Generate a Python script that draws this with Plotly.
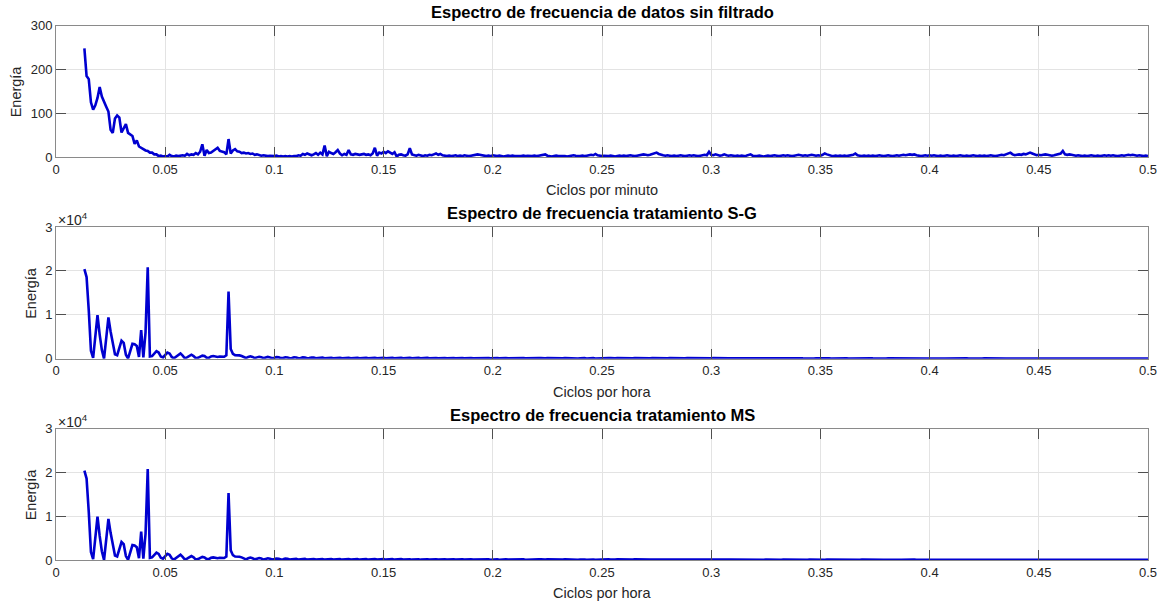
import numpy as np
import plotly.graph_objects as go

# ---------------- data ----------------
F_INICIO = 0.013
F_PASO = 0.001

# Panel 1: espectro de datos sin filtrado (energía), f = 0.013 ... 0.500
energia_raw = [
    # 0.013 - 0.100
    248, 185, 178, 125, 108, 118, 135, 160, 138, 125,
    115, 104, 62, 55, 88, 95, 90, 56, 65, 75,
    55, 52, 48, 30, 38, 24, 21, 18, 15, 14,
    10, 10, 6, 6, 2, 3, 1, 2, 1, 5,
    2, 1, 3, 2, 3, 4, 3, 7, 4, 6,
    5, 9, 6, 12, 29, 3, 16, 9, 10, 14,
    18, 21, 14, 13, 11, 6, 41, 8, 15, 18,
    13, 12, 9, 10, 8, 9, 7, 8, 5, 6,
    4, 3, 4, 3, 2, 3, 2, 2,
    # 0.101 - 0.200
    3, 1, 2, 1, 2, 1, 2, 1, 2, 2,
    4, 3, 7, 5, 8, 6, 4, 6, 9, 5,
    10, 6, 26, 2, 12, 9, 7, 11, 16, 8,
    4, 7, 5, 16, 6, 5, 7, 6, 5, 6,
    7, 5, 6, 4, 8, 21, 3, 10, 8, 12,
    9, 13, 10, 7, 11, 1, 5, 6, 4, 3,
    6, 20, 6, 4, 3, 5, 3, 2, 4, 3,
    5, 4, 6, 8, 5, 7, 4, 3, 2, 3,
    2, 3, 4, 2, 3, 2, 4, 3, 2, 3,
    4, 5, 6, 5, 4, 3, 2, 3, 2, 4,
    # 0.201 - 0.500
    3, 2, 3, 2, 1, 2, 3, 2, 3, 2,
    2, 1, 2, 3, 2, 3, 2, 2, 3, 2,
    3, 4, 5, 6, 3, 2, 1, 2, 3, 2,
    2, 3, 2, 1, 2, 3, 4, 3, 2, 2,
    3, 2, 3, 4, 5, 4, 7, 4, 3, 2,
    3, 2, 2, 3, 2, 1, 2, 3, 2, 3,
    2, 3, 4, 3, 2, 3, 4, 5, 6, 5,
    4, 5, 7, 8, 10, 7, 5, 4, 3, 4,
    3, 2, 3, 2, 3, 4, 3, 2, 3, 4,
    3, 4, 3, 2, 3, 4, 5, 4, 12, 5,
    4, 6, 5, 3, 4, 6, 4, 3, 4, 3,
    2, 3, 2, 3, 2, 3, 4, 6, 3, 2,
    2, 3, 2, 1, 2, 3, 2, 3, 4, 3,
    2, 3, 4, 3, 4, 3, 2, 3, 4, 5,
    4, 3, 4, 3, 4, 5, 4, 3, 4, 3,
    5, 8, 6, 4, 3, 2, 3, 2, 3, 2,
    3, 2, 3, 4, 5, 8, 4, 3, 2, 3,
    2, 3, 2, 3, 2, 3, 4, 3, 2, 3,
    4, 3, 2, 3, 4, 3, 4, 5, 4, 5,
    6, 5, 6, 4, 3, 2, 3, 4, 3, 4,
    3, 4, 3, 2, 3, 2, 3, 4, 3, 2,
    3, 2, 3, 4, 3, 2, 3, 2, 3, 4,
    3, 2, 3, 2, 3, 2, 3, 4, 3, 2,
    3, 4, 5, 4, 6, 8, 10, 6, 4, 5,
    6, 5, 7, 6, 8, 10, 8, 6, 4, 5,
    4, 5, 6, 5, 4, 3, 4, 5, 6, 8,
    14, 6, 5, 6, 5, 4, 3, 4, 3, 2,
    3, 2, 3, 4, 3, 2, 3, 2, 3, 4,
    3, 4, 3, 4, 3, 2, 3, 4, 3, 4,
    5, 4, 5, 4, 3, 4, 3, 2, 3, 2,
]

# Panel 2: espectro tratamiento S-G (energía), f = 0.013 ... 0.500
energia_sg = [
    # 0.013 - 0.100
    20400, 18600, 11000, 1800, 200, 6000, 9900, 5500, 2000, 0,
    4500, 9400, 6200, 3800, 1000, 800, 2800, 4100, 3600, 900,
    50, 1800, 3400, 3300, 2900, 400, 6500, 300, 6000, 20800,
    500, 600, 1200, 1700, 1400, 500, 300, 900, 1400, 1200,
    400, 100, 500, 1000, 1200, 700, 100, 300, 700, 900,
    600, 100, 200, 500, 700, 600, 200, 200, 500, 600,
    500, 400, 500, 500, 450, 800, 15300, 2200, 1100, 800,
    800, 750, 600, 300, 150, 400, 550, 400, 150, 300,
    450, 350, 100, 250, 400, 300, 100, 200,
    # 0.101 - 0.500
    350, 300, 120, 150, 320, 280, 100, 160, 300, 260, 90, 150, 290, 250, 80, 140, 280, 240, 90, 150,
    270, 230, 80, 140, 260, 220, 90, 150, 250, 220, 80, 140, 250, 210, 90, 140, 240, 210, 80, 130,
    240, 200, 80, 140, 230, 200, 90, 130, 230, 190, 80, 130, 220, 190, 80, 140, 220, 190, 90, 130,
    210, 180, 80, 130, 210, 180, 80, 120, 200, 180, 90, 130, 200, 170, 80, 120, 200, 170, 80, 120,
    190, 170, 80, 120, 190, 160, 80, 120, 190, 160, 80, 110, 180, 160, 80, 120, 180, 160, 70, 110,
    180, 150, 70, 110, 180, 150, 80, 110, 170, 150, 70, 110, 170, 150, 70, 100, 170, 140, 70, 110,
    160, 140, 70, 100, 160, 140, 70, 100, 160, 140, 60, 100, 160, 130, 70, 100, 150, 130, 60, 100,
    150, 130, 60, 100, 150, 130, 60, 90, 150, 130, 60, 100, 140, 120, 60, 90, 140, 120, 60, 90,
    140, 120, 60, 90, 140, 120, 50, 90, 130, 120, 60, 90, 130, 110, 60, 90, 130, 110, 50, 80,
    130, 110, 60, 90, 130, 110, 50, 80, 120, 110, 50, 80, 120, 110, 50, 80, 120, 100, 50, 80,
    120, 100, 50, 80, 120, 100, 50, 80, 110, 100, 50, 80, 110, 100, 50, 70, 110, 90, 50, 80,
    110, 90, 50, 70, 110, 90, 40, 70, 100, 90, 50, 70, 100, 90, 40, 70, 100, 90, 40, 70,
    100, 80, 40, 70, 100, 80, 40, 70, 100, 80, 40, 60, 90, 80, 40, 70, 90, 80, 40, 60,
    90, 80, 40, 60, 90, 70, 40, 60, 90, 70, 40, 60, 90, 70, 40, 60, 80, 70, 40, 60,
    80, 70, 40, 60, 80, 70, 30, 60, 80, 70, 40, 60, 80, 60, 30, 50, 80, 60, 30, 60,
    80, 60, 30, 50, 70, 60, 30, 50, 70, 60, 30, 50, 70, 60, 30, 50, 70, 60, 30, 50,
    70, 60, 30, 50, 70, 50, 30, 50, 70, 50, 30, 50, 60, 50, 30, 50, 60, 50, 30, 40,
    60, 50, 30, 40, 60, 50, 30, 40, 60, 50, 30, 40, 60, 50, 20, 40, 60, 50, 20, 40,
    60, 40, 20, 40, 50, 40, 20, 40, 50, 40, 20, 40, 50, 40, 20, 40, 50, 40, 20, 30,
    50, 40, 20, 30, 50, 40, 20, 30, 50, 40, 20, 30, 50, 40, 20, 30, 50, 40, 20, 30,
]

# Panel 3: espectro tratamiento MS (igual al S-G en la imagen)
energia_ms = list(energia_sg)

x_ticks = [0, 0.05, 0.1, 0.15, 0.2, 0.25, 0.3, 0.35, 0.4, 0.45, 0.5]
x_ticktext = ["0", "0.05", "0.1", "0.15", "0.2", "0.25", "0.3", "0.35", "0.4", "0.45", "0.5"]
y1_ticks = [0, 100, 200, 300]
y1_ticktext = ["0", "100", "200", "300"]
y2_ticks = [0, 10000, 20000, 30000]
y2_ticktext = ["0", "1", "2", "3"]

titulos = ["Espectro de frecuencia de datos sin filtrado",
           "Espectro de frecuencia tratamiento S-G",
           "Espectro de frecuencia tratamiento MS"]
xlabels = ["Ciclos por minuto", "Ciclos por hora", "Ciclos por hora"]
ylabel = "Energía"

# ---------------- figure ----------------
W, H = 1164, 606
ML, MR = 56, 16
frecuencia = np.round(F_INICIO + F_PASO * np.arange(len(energia_raw)), 4)

def py(px):  # pixel from top -> paper y
    return 1 - px / H

def pxx(px):  # pixel from left -> paper x
    return (px - ML) / (W - ML - MR)

paneles = [(25.7, 157.0), (227.0, 358.7), (428.7, 560.0)]
series = [energia_raw, energia_sg, energia_ms]

fig = go.Figure()
FONT = "Liberation Sans, Arial, sans-serif"
TXT = "#262626"
LINE = "#0000d0"

for i, (top, bot) in enumerate(paneles):
    n = "" if i == 0 else str(i + 1)
    fig.add_trace(go.Scatter(x=frecuencia, y=series[i], mode="lines",
                             line=dict(color=LINE, width=2.6),
                             xaxis="x" + n, yaxis="y" + n, showlegend=False,
                             hoverinfo="skip"))
    common = dict(showline=True, linecolor="#8a8a8a", linewidth=1, mirror="ticks",
                  ticks="inside", ticklen=10, tickcolor="#505050", tickwidth=1,
                  showgrid=True, gridcolor="#e3e3e3", gridwidth=1, zeroline=False,
                  automargin=False,
                  tickfont=dict(family=FONT, size=13, color=TXT))
    fig.layout["xaxis" + n] = dict(domain=[0, 1], range=[0, 0.5], anchor="y" + n,
                                   tickvals=x_ticks, ticktext=x_ticktext, **common)
    if i == 0:
        yv, yt, yr = y1_ticks, y1_ticktext, [0, 300]
    else:
        yv, yt, yr = y2_ticks, y2_ticktext, [0, 30000]
    fig.layout["yaxis" + n] = dict(domain=[py(bot), py(top)], range=yr, anchor="x" + n,
                                   tickvals=yv, ticktext=yt, **common)

    # title
    fig.add_annotation(text="<b>" + titulos[i] + "</b>", x=0.5, y=py(top - 14),
                       xref="paper", yref="paper", showarrow=False,
                       font=dict(family=FONT, size=16.5, color="#000000"),
                       xanchor="center", yanchor="middle")
    # x label
    fig.add_annotation(text=xlabels[i], x=0.5, y=py(bot + 33),
                       xref="paper", yref="paper", showarrow=False,
                       font=dict(family=FONT, size=14.5, color=TXT),
                       xanchor="center", yanchor="middle")
    # y label
    fig.add_annotation(text=ylabel, x=pxx(16 if i == 0 else 31), y=py((top + bot) / 2),
                       xref="paper", yref="paper", showarrow=False, textangle=-90,
                       font=dict(family=FONT, size=14.5, color=TXT),
                       xanchor="center", yanchor="middle")
    if i > 0:
        fig.add_annotation(text="×10<sup>4</sup>", x=pxx(56), y=py(top - 8),
                           xref="paper", yref="paper", showarrow=False,
                           font=dict(family=FONT, size=14, color=TXT),
                           xanchor="left", yanchor="middle")

fig.update_layout(width=W, height=H, margin=dict(l=ML, r=MR, t=0, b=0, autoexpand=False),
                  paper_bgcolor="white", plot_bgcolor="white")

fig.write_html("out.html")
